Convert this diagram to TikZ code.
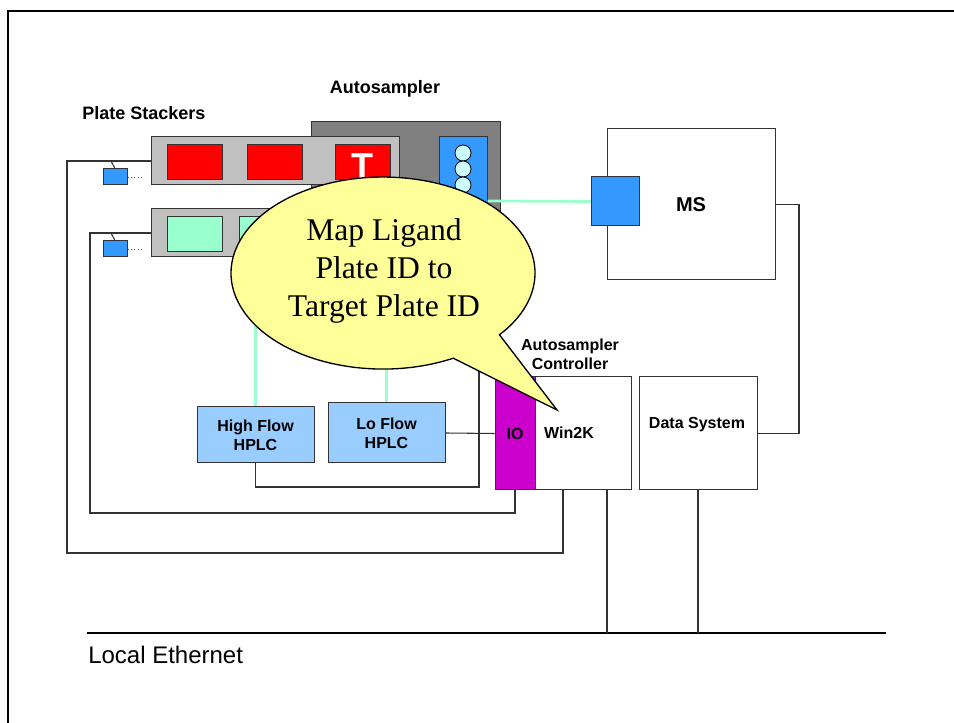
\documentclass[tikz,border=0pt]{standalone}
\usepackage{fontspec}
\setmainfont{Liberation Serif}
\setsansfont{Liberation Sans}

\definecolor{autogray}{RGB}{128,128,128}
\definecolor{stackgray}{RGB}{192,192,192}
\definecolor{platered}{RGB}{255,0,0}
\definecolor{platecyan}{RGB}{153,255,204}
\definecolor{rackblue}{RGB}{51,153,255}
\definecolor{vialcyan}{RGB}{204,255,255}
\definecolor{hplcblue}{RGB}{153,204,255}
\definecolor{iomagenta}{RGB}{204,0,204}
\definecolor{noteyellow}{RGB}{255,255,153}
\definecolor{flowgreen}{RGB}{153,255,204}

\begin{document}
\begin{tikzpicture}[x=0.75pt,y=-0.75pt,line join=miter,
    box/.style={draw=black!80, line width=0.75pt, inner sep=0pt},
    plate/.style={box, minimum width=41.25pt, minimum height=26.25pt},
    stacker/.style={box, fill=stackgray, minimum width=186pt, minimum height=36pt},
    sensor/.style={box, fill=rackblue, minimum width=18pt, minimum height=12pt},
    vial/.style={circle, draw, fill=vialcyan, minimum size=12pt, inner sep=0pt, line width=0.6pt},
    lbl/.style={font=\sffamily\bfseries\fontsize{12}{14.25}\selectfont, align=center},
    biglbl/.style={font=\sffamily\bfseries\fontsize{13.5}{16}\selectfont},
    wire/.style={draw=black!80, line width=0.8pt},
    flow/.style={draw=flowgreen, line width=2pt}]
    \useasboundingbox (0,0) rectangle (954,723);
    \draw[line width=1.6pt] (7.8,723) -- (7.8,10.7) -- (954,10.7);

    \node[biglbl] (stackers) at (144,113) {Plate Stackers};
    \node[biglbl] (autolbl) at (385,89) {Autosampler};
    \node[lbl] (ctrllbl) at (570,354) {Autosampler\\Controller};

    % autosampler and plate stackers
    \node[box, fill=autogray, minimum width=141.75pt, minimum height=118.5pt] (autosmp) at (405.5,201) {};
    \node[box, fill=rackblue, minimum width=36pt, minimum height=96pt] (rack) at (463,201) {};
    \foreach \y [count=\i] in {153,169,185}
        \node[vial] (vial\i) at (463,\y) {};
    \node[stacker] (stack1) at (275,161) {};
    \node[stacker] (stack2) at (275,233) {};
    \foreach \x [count=\i] in {194.5,274.5,362.5}
        \node[plate, fill=platered] (red\i) at (\x,162.5) {};
    \foreach \x [count=\i] in {194.5,266.5,347.5}
        \node[plate, fill=platecyan] (cyan\i) at (\x,234.5) {};
    \node[font=\sffamily\bfseries\fontsize{27}{27}\selectfont, text=white, anchor=base, inner sep=0pt] (tag) at (362.5,179) {T};

    \node[sensor] (sensor1) at (115,177) {};
    \node[sensor] (sensor2) at (115,249) {};
    \draw[wire] (sensor1.north) -- ([xshift=-3pt]sensor1.north |- stack1.west);
    \draw[wire] (sensor2.north) -- ([xshift=-3pt]sensor2.north |- stack2.west);
    \draw[red, dotted, line width=0.6pt] (sensor1.east) -- ([xshift=12pt]sensor1.east);
    \draw[red, dotted, line width=0.6pt] (sensor2.east) -- ([xshift=12pt]sensor2.east);

    % MS and data system
    \node[box, fill=white, minimum width=126pt, minimum height=113.25pt, lbl, font=\sffamily\bfseries\fontsize{15}{18}\selectfont] (ms) at (691,204.5) {MS};
    \node[box, fill=rackblue, minimum width=36pt, minimum height=36.75pt] (msport) at (615,201.5) {};
    \node[box, fill=hplcblue, minimum width=87.75pt, minimum height=42pt, lbl] (hiflow) at (255.5,435) {High Flow\\HPLC};
    \node[box, fill=hplcblue, minimum width=87.75pt, minimum height=45pt, lbl] (loflow) at (386.5,433) {Lo Flow\\HPLC};
    \node[box, fill=iomagenta, minimum width=30pt, minimum height=84.75pt, lbl] (io) at (515,433.5) {IO};
    \node[box, fill=white, minimum width=72pt, minimum height=84.75pt] (win) at (583,433.5) {};
    \node[lbl] (winlbl) at (569,433) {Win2K};
    \node[box, fill=white, minimum width=88.5pt, minimum height=84.75pt] (datasys) at (698,433.5) {};
    \node[lbl] (datalbl) at (697,425) {Data System};

    \coordinate (loop1) at (67,553);
    \coordinate (loop2) at (90,513);
    \coordinate (hpl) at (479,487);
    \coordinate (msdrop) at (799,320);
    \coordinate (lanL) at (87,633);
    \coordinate (lanR) at (886,633);

    \draw[wire] (stack1.west) -| (loop1) -| ([xshift=-15pt]win.south);
    \draw[wire] (stack2.west) -| (loop2) -| (io.south);
    \draw[wire] (hiflow.south) |- (hpl) -- (hpl |- autosmp.south);
    \draw[wire] (loflow.east) -- (io.west);
    \draw[wire] (ms.east) -| (msdrop) |- (datasys.east);
    \draw[flow] (rack.east) -- (msport.west);
    \draw[flow] (hiflow.north |- stack2.south) -- (hiflow.north);
    \draw[flow] (loflow.north |- stack2.south) -- (loflow.north);

    % local ethernet
    \draw[wire, black] (lanL) -- (lanR);
    \draw[wire] ([xshift=18pt]win.south) -- ([xshift=18pt]win.south |- lanL);
    \draw[wire] (datasys.south) -- (datasys.south |- lanL);
    \node[anchor=west, inner sep=0pt, font=\sffamily\fontsize{18}{20}\selectfont] (lan) at (88,655) {Local Ethernet};

    % callout
    \filldraw[fill=noteyellow, line width=1pt] (453.2,358.2) arc[start angle=62.5, end angle=400, x radius=152, y radius=96] -- (557,410) -- cycle;
    \node[font=\fontsize{23.7}{28.5}\selectfont, align=center] (note) at (384,271) {Map Ligand\\Plate ID to\\Target Plate ID};
\end{tikzpicture}
\end{document}
